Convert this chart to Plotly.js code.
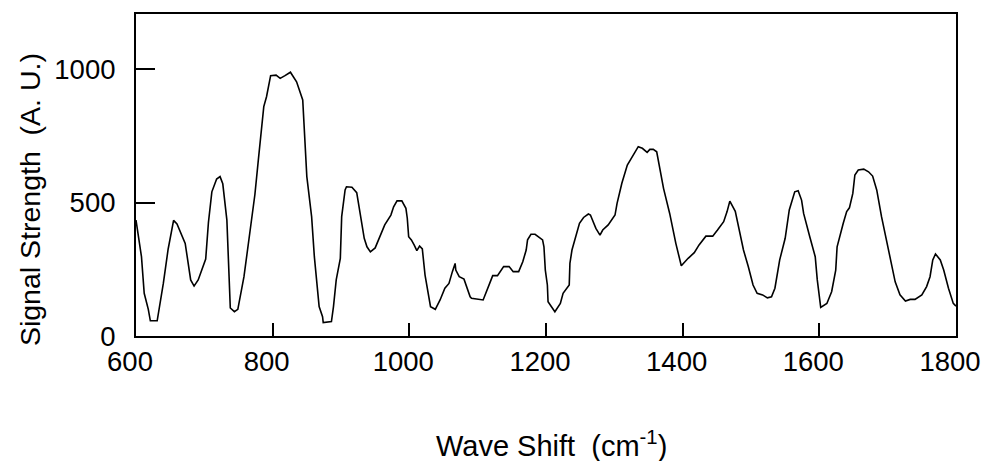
<!DOCTYPE html>
<html>
<head>
<meta charset="utf-8">
<script src="https://cdn.plot.ly/plotly-3.0.1.min.js"></script>
<style>html,body{margin:0;padding:0;background:#fff;}#chart{width:984px;height:461px;}</style>
</head>
<body>
<div id="chart"></div>
<script>
const waveShift = [600,608,612,618,621,631,640,647,655,660,672,675,680,685,691,702,706,711,718,723,727,733,736,738,744,749,758,767,774,779,787,791,797,805,811,818,826,835,844,850,857,861,868,873,874,886,889,893,899,901,904,906,908,916,923,930,934,938,943,950,957,964,973,977,982,989,995,997,999,1003,1007,1011,1015,1019,1023,1028,1031,1038,1045,1052,1058,1063,1067,1068,1073,1080,1089,1091,1108,1118,1122,1129,1138,1146,1152,1160,1166,1171,1173,1178,1184,1195,1197,1199,1202,1203,1213,1221,1225,1234,1235,1238,1243,1249,1255,1262,1265,1273,1279,1283,1291,1296,1301,1304,1311,1319,1327,1335,1341,1348,1352,1357,1362,1367,1372,1381,1390,1398,1408,1417,1424,1434,1444,1451,1460,1465,1469,1477,1481,1489,1496,1503,1509,1517,1524,1530,1535,1542,1550,1556,1564,1569,1574,1577,1586,1594,1597,1602,1611,1618,1624,1626,1635,1640,1644,1649,1652,1657,1665,1672,1678,1684,1691,1699,1706,1711,1718,1726,1733,1740,1750,1757,1762,1766,1770,1777,1782,1789,1796,1800];
const signal = [434,297,160,100,57,57,197,325,433,420,347,290,210,187,210,288,425,540,588,597,570,434,250,105,91,100,222,390,530,659,859,896,975,977,965,975,988,952,884,597,447,297,110,72,50,54,110,210,291,447,497,547,559,557,537,422,366,334,315,330,372,416,453,484,506,506,478,441,372,360,341,320,337,326,228,160,110,100,135,179,197,241,272,247,222,213,147,141,135,200,226,226,260,260,241,241,278,322,360,381,381,360,334,247,191,128,91,122,160,191,272,322,372,422,444,457,453,403,378,397,416,434,453,497,572,640,674,709,703,688,699,699,690,622,553,459,347,263,291,312,341,374,374,397,428,466,505,467,422,322,260,191,160,154,143,147,179,285,366,472,540,544,509,459,372,297,210,107,122,166,247,334,422,466,480,534,603,622,625,615,599,547,447,347,253,203,154,131,137,137,154,185,222,285,307,285,247,179,122,112];
const xTicks = [600,800,1000,1200,1400,1600,1800];
const yTicks = [0,500,1000];
const xTitle = 'Wave Shift  (cm<sup>-1</sup>)';
const yTitle = 'Signal Strength  (A. U.)';

const font = 'Liberation Sans, Arial, sans-serif';
const trace = {
  x: waveShift, y: signal, type: 'scatter', mode: 'lines',
  line: {color: '#000', width: 1.6}, hoverinfo: 'skip'
};
const layout = {
  width: 984, height: 461,
  margin: {l: 136, r: 28, t: 14, b: 125, pad: 0},
  paper_bgcolor: '#fff', plot_bgcolor: '#fff',
  showlegend: false,
  font: {family: font, color: '#000'},
  xaxis: {
    range: [600, 1800], tickvals: xTicks, ticktext: xTicks.map(String),
    ticks: 'inside', ticklen: 13, tickwidth: 2, tickcolor: '#000',
    showline: true, linecolor: '#000', linewidth: 2, mirror: true,
    showgrid: false, zeroline: false,
    tickfont: {family: font, size: 27.5, color: '#000'},
    ticklabelstandoff: 0, ticklabelshift: -6, ticklabeloverflow: 'allow'
  },
  yaxis: {
    range: [0, 1206], tickvals: yTicks, ticktext: yTicks.map(String),
    ticks: 'inside', ticklen: 19, tickwidth: 2, tickcolor: '#000',
    showline: true, linecolor: '#000', linewidth: 2, mirror: true,
    showgrid: false, zeroline: false,
    tickfont: {family: font, size: 27.5, color: '#000'},
    ticklabelstandoff: 13
  },
  annotations: [
    {text: xTitle, xref: 'paper', yref: 'paper', x: 0.507, y: -0.334,
     xanchor: 'center', yanchor: 'middle', showarrow: false, borderpad: 0,
     font: {family: font, size: 29, color: '#000'}},
    {text: yTitle, xref: 'paper', yref: 'paper', x: (30 - 136) / 820, y: 0.422,
     xanchor: 'center', yanchor: 'middle', textangle: -90, showarrow: false,
     font: {family: font, size: 28.5, color: '#000'}}
  ]
};
Plotly.newPlot('chart', [trace], layout, {staticPlot: true, displayModeBar: false});
</script>
</body>
</html>
